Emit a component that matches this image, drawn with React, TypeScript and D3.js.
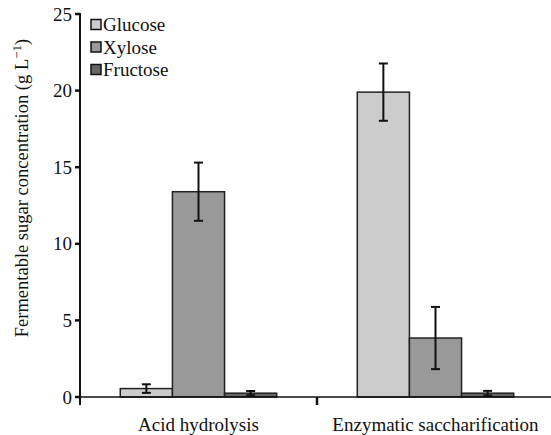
import React from "react";
import * as d3 from "d3";

const categories = ["Acid hydrolysis", "Enzymatic saccharification"];
const seriesNames = ["Glucose", "Xylose", "Fructose"];
const glucose = [0.55, 19.9];
const xylose = [13.4, 3.85];
const fructose = [0.25, 0.25];
const glucoseErr = [0.28, 1.87];
const xyloseErr = [1.9, 2.03];
const fructoseErr = [0.14, 0.15];
const yTicks = [0, 5, 10, 15, 20, 25];
const colors = ["#cccccc", "#999999", "#666666"];

const W = 551;
const H = 435;
const axisX = 80;
const y0 = 397;
const yTop = 14;

export default function App() {
  const y = d3.scaleLinear().domain([0, 25]).range([y0, yTop]);
  const x0 = d3
    .scaleBand<string>()
    .domain(categories)
    .range([axisX, 554])
    .paddingInner(0.34)
    .paddingOuter(0.17);
  const x1 = d3
    .scaleBand<string>()
    .domain(seriesNames)
    .range([0, x0.bandwidth()])
    .padding(0);
  const values = [glucose, xylose, fructose];
  const errs = [glucoseErr, xyloseErr, fructoseErr];
  const font = "'Liberation Serif', 'Times New Roman', serif";
  const sepX = ((x0(categories[0]) as number) + x0.bandwidth() + (x0(categories[1]) as number)) / 2;

  return (
    <svg
      width={W}
      height={H}
      style={{ position: "absolute", left: 0, top: 0 }}
      fontFamily={font}
    >
      <rect width={W} height={H} fill="#fff" />
      {categories.map((c, ci) =>
        seriesNames.map((s, si) => {
          const bx = (x0(c) as number) + (x1(s) as number);
          const bw = x1.bandwidth();
          const v = values[si][ci];
          const e = errs[si][ci];
          const cx = bx + bw / 2;
          return (
            <g key={c + s}>
              <rect
                x={bx}
                y={y(v)}
                width={bw}
                height={y(0) - y(v)}
                fill={colors[si]}
                stroke="#222"
                strokeWidth={1.5}
              />
              <line x1={cx} x2={cx} y1={y(v + e)} y2={y(v - e)} stroke="#111" strokeWidth={2} />
              <line x1={cx - 4.5} x2={cx + 4.5} y1={y(v + e)} y2={y(v + e)} stroke="#111" strokeWidth={2} />
              <line x1={cx - 4.5} x2={cx + 4.5} y1={y(v - e)} y2={y(v - e)} stroke="#111" strokeWidth={2} />
            </g>
          );
        })
      )}
      <line x1={axisX} x2={axisX} y1={yTop - 1} y2={405} stroke="#111" strokeWidth={2} />
      <line x1={axisX} x2={W} y1={y0} y2={y0} stroke="#111" strokeWidth={1.5} />
      {yTicks.map((t) => (
        <g key={t}>
          <line x1={axisX - 5} x2={axisX} y1={y(t)} y2={y(t)} stroke="#111" strokeWidth={2.5} />
          <text x={axisX - 8} y={y(t)} dy="0.35em" textAnchor="end" fontSize={19} fill="#111">
            {t}
          </text>
        </g>
      ))}
      <line x1={sepX} x2={sepX} y1={y0} y2={405} stroke="#111" strokeWidth={2.5} />
      {categories.map((c) => (
        <text
          key={c}
          x={(x0(c) as number) + x0.bandwidth() / 2}
          y={431}
          textAnchor="middle"
          fontSize={19}
          fill="#111"
        >
          {c}
        </text>
      ))}
      <text
        transform={`translate(28, ${188}) rotate(-90)`}
        textAnchor="middle"
        fontSize={18.5}
        fill="#111"
      >
        Fermentable sugar concentration (g L
        <tspan dy={-7} fontSize={13}>−1</tspan>
        <tspan dy={7}>)</tspan>
      </text>
      {seriesNames.map((s, i) => (
        <g key={s} transform={`translate(91, ${24.5 + i * 22.5})`}>
          <rect x={0} y={-5} width={10} height={10} fill={colors[i]} stroke="#111" strokeWidth={1.5} />
          <text x={12} y={0} dy="0.35em" fontSize={19} fill="#111">
            {s}
          </text>
        </g>
      ))}
    </svg>
  );
}
